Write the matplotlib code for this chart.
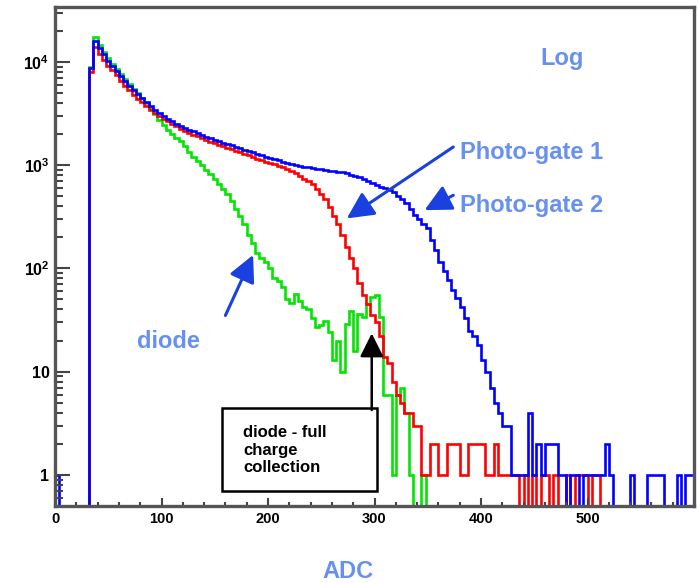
import numpy as np
import matplotlib
matplotlib.use("Agg")
import matplotlib.pyplot as plt
from matplotlib.ticker import FixedLocator, FixedFormatter, MultipleLocator, LogLocator, NullFormatter
from matplotlib.patches import Rectangle

plt.rcParams['font.family'] = ['Liberation Sans', 'DejaVu Sans']
plt.rcParams['mathtext.fontset'] = 'custom'
plt.rcParams['mathtext.rm'] = 'Liberation Sans'
plt.rcParams['mathtext.bf'] = 'Liberation Sans:bold'

# histogram binning (ADC), 4 counts per bin
bin_w = 4
edges = np.arange(0, 604, bin_w)

# bins 0-32 (mostly empty)
lead_blue = [1, 0, 0, 0, 0, 0, 0, 0]
lead_zero = [0, 0, 0, 0, 0, 0, 0, 0]

# bins from ADC 32 to 600
pg2 = [8800, 16000, 13500, 11800, 10200, 9200, 8200, 7300, 6500, 5900,
       5300, 4850, 4450, 4100, 3750, 3450, 3200, 3000, 2800, 2650,
       2500, 2400, 2300, 2200, 2120, 2040, 1960, 1890, 1830, 1770,
       1710, 1650, 1600, 1550, 1500, 1450, 1410, 1370, 1330, 1290,
       1250, 1210, 1180, 1150, 1110, 1080, 1050, 1020, 1000, 985,
       970, 955, 940, 925, 910, 895, 885, 875, 865, 850,
       830, 810, 790, 760, 730, 700, 670, 645, 620, 595,
       575, 545, 505, 465, 430, 380, 330, 300, 270, 245,
       190, 150, 115, 95, 78, 62, 52, 42, 33, 25,
       22, 18, 13, 10, 7, 5, 4, 3, 3, 1,
       1, 1, 1, 4, 1, 2, 1, 2, 2, 2,
       1, 1, 0, 1, 1, 0, 1, 1, 1, 1,
       1, 2, 1, 0, 0, 0, 0, 1, 0, 0,
       0, 1, 1, 1, 1, 0, 0, 0, 1, 0,
       1, 1]

pg1 = [8000, 14000, 12000, 10500, 9200, 8300, 7400, 6600, 5900, 5300,
       4800, 4400, 4050, 3750, 3450, 3200, 3000, 2800, 2650, 2500,
       2380, 2260, 2160, 2060, 1980, 1900, 1820, 1750, 1690, 1630,
       1580, 1520, 1470, 1420, 1375, 1330, 1280, 1240, 1190, 1150,
       1120, 1080, 1050, 1020, 990, 955, 920, 880, 830, 780,
       740, 700, 650, 590, 530, 470, 390, 320, 270, 210,
       160, 125, 100, 72, 55, 45, 35, 30, 22, 14,
       12, 8, 6, 5, 4, 4, 3, 3, 1, 1,
       2, 2, 1, 1, 2, 2, 2, 1, 1, 2,
       2, 2, 2, 1, 1, 2, 1, 1, 1, 1,
       1, 0, 1, 0, 1, 0, 1, 1, 0, 1,
       0, 0, 1, 0, 1, 1, 1, 0, 1, 1,
       0, 0, 0, 0, 0, 0, 0, 0, 0, 0,
       0, 0, 0, 0, 0, 0, 0, 0, 0, 0,
       0, 0]

diode = [9000, 17500, 14500, 12500, 10800, 9600, 8500, 7600, 6800, 6100,
         5500, 4950, 4450, 4000, 3550, 3100, 2750, 2450, 2200, 2000,
         1850, 1700, 1520, 1350, 1200, 1100, 1000, 900, 820, 740,
         660, 590, 530, 450, 380, 320, 270, 210, 175, 140,
         125, 115, 100, 80, 75, 66, 50, 46, 57, 48,
         42, 40, 33, 27, 28, 31, 24, 13, 20, 10,
         29, 39, 16, 36, 34, 45, 53, 55, 34, 6,
         6, 1, 6, 7, 4, 1, 0, 0, 1, 0,
         0, 0, 0, 0, 0, 0, 0, 0, 0, 0,
         0, 0, 0, 0, 0, 0, 0, 0, 0, 0,
         0, 0, 0, 0, 0, 0, 0, 0, 0, 0,
         0, 0, 0, 0, 0, 0, 0, 0, 0, 0,
         0, 0, 0, 0, 0, 0, 0, 0, 0, 0,
         0, 0, 0, 0, 0, 0, 0, 0, 0, 0,
         0, 0]

blue_counts = np.array(lead_blue + pg2, float)
red_counts = np.array(lead_zero + pg1, float)
green_counts = np.array(lead_zero + diode, float)

x_ticks = [0, 100, 200, 300, 400, 500]
y_ticks = [1, 10, 100, 1000, 10000]
y_labels = ['1', '10', r'$\mathbf{10^{2}}$', r'$\mathbf{10^{3}}$', r'$\mathbf{10^{4}}$']

def for_log(v):
    # empty bins go down to the frame bottom like in ROOT
    return np.where(v > 0, v, 1e-3)

fig = plt.figure(figsize=(6.98, 5.83), dpi=100)
ax = fig.add_axes([55/698, 77/583, 639/698, 499/583])

ax.stairs(for_log(green_counts), edges, baseline=1e-3, color='#00e600', lw=1.9)
ax.stairs(for_log(red_counts), edges, baseline=1e-3, color='#ff0000', lw=1.9)
ax.stairs(for_log(blue_counts), edges, baseline=1e-3, color='#0000ff', lw=1.9)

ax.set_yscale('log')
ax.set_xlim(0, 600)
ax.set_ylim(0.5, 3.4e4)

ax.xaxis.set_major_locator(FixedLocator(x_ticks))
ax.xaxis.set_minor_locator(MultipleLocator(20))
ax.yaxis.set_major_locator(FixedLocator(y_ticks))
ax.yaxis.set_major_formatter(FixedFormatter(y_labels))
ax.yaxis.set_minor_locator(LogLocator(base=10, subs=np.arange(2, 10), numticks=20))
ax.yaxis.set_minor_formatter(NullFormatter())

for s in ax.spines.values():
    s.set_color('#555555')
    s.set_linewidth(2.4)

ax.tick_params(axis='both', which='both', direction='in', color='#444444', width=1.5,
               top=False, right=False)
ax.tick_params(axis='y', which='major', length=11, pad=4)
ax.tick_params(axis='y', which='minor', length=5.5)
ax.tick_params(axis='x', which='major', length=6, pad=4)
ax.tick_params(axis='x', which='minor', length=3)
for lab in ax.get_xticklabels():
    lab.set_fontsize(10.5)
    lab.set_fontweight('bold')
for lab in ax.get_yticklabels():
    lab.set_fontsize(11.5)
    lab.set_fontweight('bold')

label_col = '#6890f0'
arrow_col = '#1a40e0'

ax.text(0.793, 0.896, 'Log', transform=ax.transAxes, ha='center', va='center',
        fontsize=17, fontweight='bold', color=label_col)
ax.text(0.634, 0.708, 'Photo-gate 1', transform=ax.transAxes, ha='left', va='center',
        fontsize=17, fontweight='bold', color=label_col)
ax.text(0.634, 0.603, 'Photo-gate 2', transform=ax.transAxes, ha='left', va='center',
        fontsize=17, fontweight='bold', color=label_col)
ax.text(0.128, 0.329, 'diode', transform=ax.transAxes, ha='left', va='center',
        fontsize=17, fontweight='bold', color=label_col)
fig.text(348/698, 1 - 572/583, 'ADC', ha='center', va='center',
         fontsize=17, fontweight='bold', color=label_col)

arr = dict(arrowstyle='-|>,head_length=0.9,head_width=0.45', color=arrow_col,
           lw=2.2, mutation_scale=18, shrinkA=0, shrinkB=0)
ax.annotate('', xy=(274, 305), xytext=(374, 1500), arrowprops=arr)
ax.annotate('', xy=(347, 367), xytext=(374, 511), arrowprops=arr)
ax.annotate('', xy=(186, 135), xytext=(160, 35), arrowprops=arr)

# note box with black arrow
ax.add_patch(Rectangle((0.261, 0.031), 0.2424, 0.165, transform=ax.transAxes,
                       facecolor='white', edgecolor='black', lw=1.8, zorder=5))
ax.text(0.2947, 0.1122, 'diode - full\ncharge\ncollection', transform=ax.transAxes,
        ha='left', va='center', fontsize=12, fontweight='bold', linespacing=1.17,
        zorder=6)
ax.annotate('', xy=(297.4, 23.5), xytext=(297.4, 4.25),
            arrowprops=dict(arrowstyle='-|>,head_length=0.8,head_width=0.4',
                            color='black', lw=1.8, mutation_scale=18,
                            shrinkA=0, shrinkB=0), zorder=6)

fig.savefig('out.png', dpi=100)
